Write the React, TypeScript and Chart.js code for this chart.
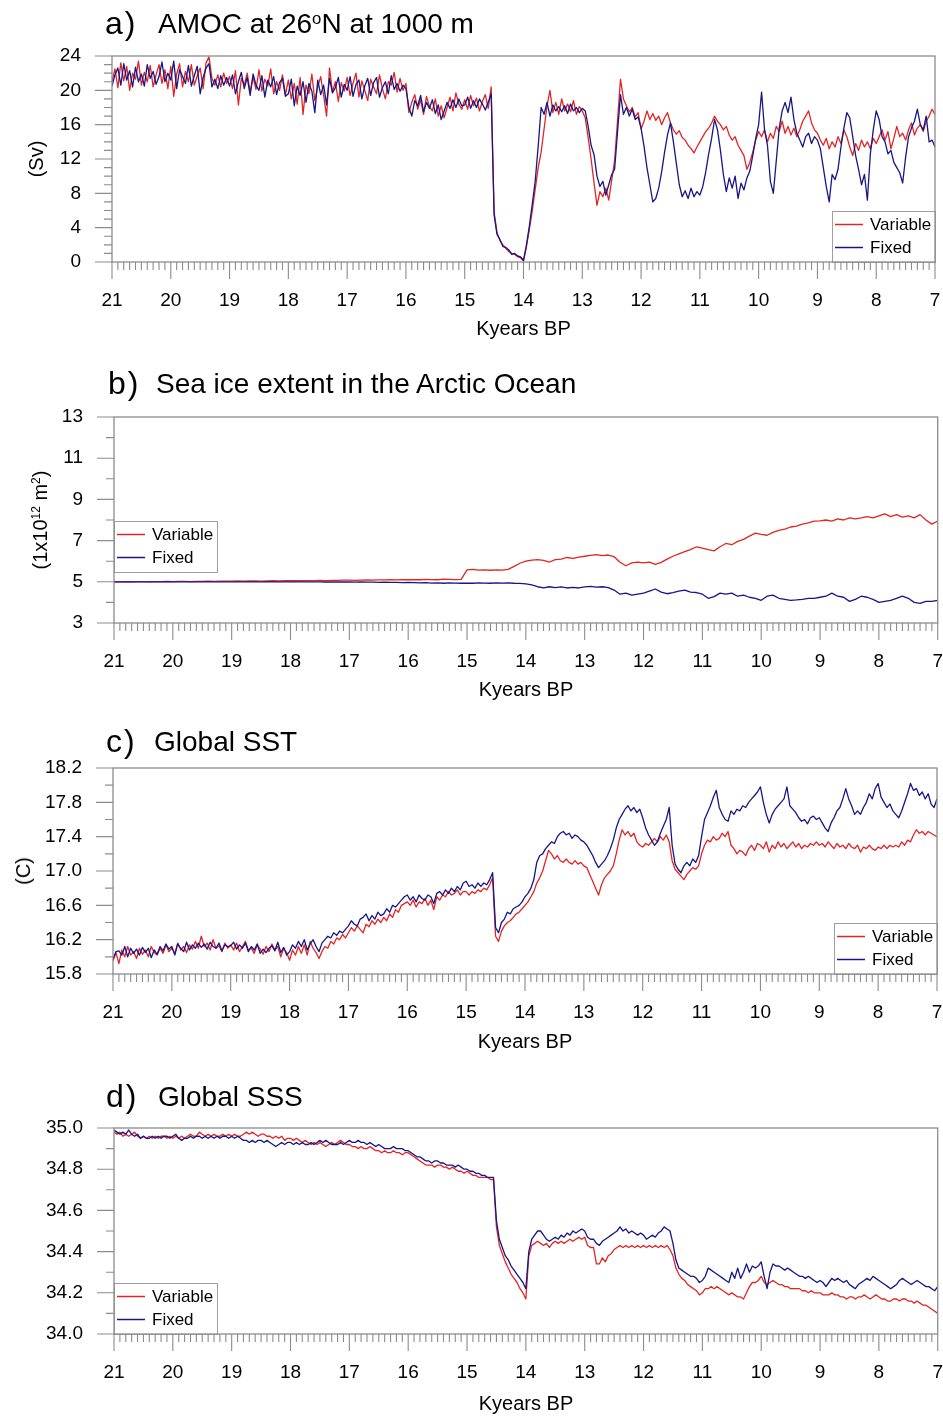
import React, { useEffect, useRef } from 'react';
import { Chart, registerables } from 'chart.js';

Chart.register(...registerables);

// ---------------- data ----------------
// sampling grids (kyears BP), 50-yr and 100-yr steps from 21 to 7
const YEARS_05 = Array.from({ length: 281 }, (_, i) => +(21 - i * 0.05).toFixed(2));
const YEARS_10 = Array.from({ length: 141 }, (_, i) => +(21 - i * 0.1).toFixed(1));

const X_TICKS = [21, 20, 19, 18, 17, 16, 15, 14, 13, 12, 11, 10, 9, 8, 7];
const AMOC_Y_TICKS = [0, 4, 8, 12, 16, 20, 24];
const SEAICE_Y_TICKS = [3, 5, 7, 9, 11, 13];
const SST_Y_TICKS = [15.8, 16.2, 16.6, 17.0, 17.4, 17.8, 18.2];
const SSS_Y_TICKS = [34.0, 34.2, 34.4, 34.6, 34.8, 35.0];

const SERIES_NAMES = ['Variable', 'Fixed'];

// a) AMOC at 26N at 1000 m (Sv), 50-yr grid
const AMOC_VARIABLE = [
  21.0, 22.5, 20.3, 23.2, 21.1, 22.8, 20.0, 22.0, 21.3, 23.4, 20.6, 22.1, 21.0, 22.9, 20.4, 21.8, 23.0, 20.8, 22.4, 20.2,
  22.8, 19.3, 21.9, 23.1, 20.4, 22.2, 21.0, 23.0, 20.6, 21.7, 22.6, 20.2, 23.2, 23.9, 21.4, 20.6, 21.8, 20.4, 22.0, 20.8,
  21.6, 20.2, 22.3, 18.3, 21.4, 20.6, 22.0, 19.8, 21.5, 20.1, 22.4, 19.9, 21.3, 20.5, 22.5, 19.6, 21.0, 20.0, 21.8, 19.5,
  21.2, 19.0, 20.8, 18.4, 21.5, 17.2, 20.6, 19.6, 21.9, 18.8, 20.4, 21.6, 19.4, 17.0, 22.6, 19.8, 21.0, 18.7, 20.9, 19.9,
  21.5, 19.4, 20.8, 22.0, 19.2, 21.1, 20.0, 18.8, 21.3, 20.4, 19.6, 21.8, 20.2, 19.0, 21.0, 20.6, 22.1, 19.8, 21.4, 20.0,
  20.8, 17.4, 18.6, 19.5, 17.8, 18.9, 17.2, 19.3, 18.1, 17.6, 19.0, 17.0, 18.2, 16.8, 18.0, 19.2, 17.6, 19.7, 18.4, 17.8,
  18.9, 17.8, 19.4, 18.2, 19.1, 17.6, 18.7, 19.5, 17.9, 20.4, 5.8, 3.4, 2.5, 2.0, 1.6, 1.2, 1.0, 0.9, 0.6, 0.5,
  0.1, 1.8, 3.8, 6.0, 8.5, 11.0, 12.8, 15.5, 18.2, 20.0, 17.4, 18.6, 17.2, 19.0, 17.6, 18.4, 17.5, 18.8, 17.2, 18.1,
  17.6, 16.8, 14.5, 12.0, 9.2, 6.6, 8.2, 7.6, 8.6, 7.2, 9.5, 11.8, 16.5, 21.3, 19.0, 18.2, 17.5, 18.0, 16.9, 17.4,
  15.5, 16.4, 17.6, 16.6, 17.3, 16.5, 17.0, 16.0, 16.8, 17.4, 16.2, 15.4, 14.9, 15.3, 14.5, 14.2, 13.6, 13.2, 12.7, 13.4,
  14.0, 14.6, 15.2, 15.6, 16.2, 17.0, 16.4, 16.0, 15.4, 15.8, 14.8, 14.2, 14.6, 13.6, 13.0, 12.4, 10.8, 11.6, 12.8, 14.2,
  15.2, 14.6, 15.4, 14.0, 15.0, 14.4, 15.8, 15.2, 16.4, 15.0, 15.8, 14.8, 15.6, 14.6, 15.4, 16.4, 17.0, 17.6, 16.2, 15.4,
  15.0, 14.2, 13.6, 14.4, 13.2, 14.0, 13.4, 14.6, 13.8, 15.4, 14.6, 13.4, 12.4, 13.8, 13.0, 14.2, 13.4, 14.0, 13.2, 14.4,
  13.8, 14.6, 15.4, 14.2, 15.2, 13.2, 14.4, 15.8, 14.6, 15.0, 14.2, 15.4, 16.2, 14.8, 15.6, 16.0, 15.2, 16.4, 17.0, 17.8, 17.2,
];
const AMOC_FIXED = [
  20.5, 21.8, 22.6, 20.6, 23.1, 21.2, 22.3, 20.4, 22.7, 21.0, 21.9, 20.5, 23.0, 21.4, 22.2, 20.7, 21.6, 23.3, 21.0, 22.0,
  21.2, 23.4, 20.2, 22.4, 21.6, 20.8, 22.9, 20.5, 21.7, 22.8, 19.6, 21.5, 22.6, 23.1, 20.4, 21.3, 20.2, 21.7, 20.6, 21.5,
  20.5, 21.8, 19.6, 21.0, 22.1, 20.2, 21.5, 19.4, 21.9, 20.6, 20.0, 21.7, 19.2, 21.2, 20.4, 21.6, 19.5, 20.9, 21.4, 19.3,
  19.6, 21.3, 18.2, 20.5, 19.4, 21.0, 18.6, 20.8, 19.9, 17.4, 21.2, 19.5, 20.6, 18.3, 21.4, 19.7, 20.3, 21.5, 19.2, 20.7,
  20.0, 21.6, 19.3, 20.7, 21.2, 19.0, 20.5, 21.4, 19.4, 20.9, 21.5, 19.2, 20.3, 21.0, 19.6, 21.7, 20.1, 20.8, 19.9, 20.6,
  20.2, 18.0, 17.0, 18.8, 18.2, 19.4, 17.5, 18.6, 17.9, 18.9, 17.3, 18.3, 16.6, 17.6, 18.6, 17.9, 18.9, 18.0, 19.0, 18.2,
  18.3, 19.2, 17.9, 18.8, 18.0, 19.0, 18.4, 17.7, 18.6, 19.6, 5.5, 3.2, 2.6, 1.8, 1.7, 1.4, 0.9, 1.0, 0.7, 0.6,
  0.2, 2.0, 4.2, 6.8, 9.5, 13.5, 18.0, 17.2, 18.6, 17.0, 18.3, 17.6, 18.1, 17.5, 18.2, 17.3, 18.4, 17.6, 18.0, 17.4,
  17.9, 17.6, 15.8, 13.6, 12.5, 10.0, 8.8, 9.4, 7.8, 9.0, 10.2, 10.8, 15.2, 19.5, 17.2, 18.0, 17.0, 17.8, 16.6, 16.9,
  15.6, 13.5, 11.0, 9.0, 7.0, 7.4, 8.6, 10.5, 12.8, 14.8, 16.2, 14.0, 11.5, 9.0, 7.6, 8.3, 7.4, 8.6, 7.6, 8.2,
  7.8, 8.8, 10.5, 12.6, 14.4, 16.6, 15.4, 13.0, 10.2, 8.2, 9.8, 8.6, 10.0, 7.4, 9.2, 8.4, 9.8, 10.6, 12.4, 14.4,
  16.0, 19.8, 15.4, 13.6, 9.4, 8.0, 11.8, 15.6, 17.6, 18.6, 17.4, 19.2, 16.6, 15.0, 14.2, 13.4, 14.6, 15.0, 13.8, 14.6,
  14.2, 13.2, 11.0, 8.8, 7.0, 10.2, 9.6, 10.8, 13.4, 15.6, 17.4, 16.8, 14.6, 12.4, 10.8, 9.0, 10.2, 7.2, 12.6, 15.4,
  17.6, 16.6, 14.6, 14.0, 12.6, 13.0, 11.6, 11.0, 10.4, 9.2, 12.2, 14.6, 15.6, 16.4, 17.8, 16.0, 15.4, 17.0, 14.0, 14.2, 13.4,
];

// b) Sea ice extent in the Arctic Ocean (1e12 m2), 100-yr grid
const SEAICE_VARIABLE = [
  5.00, 5.00, 5.01, 5.00, 5.01, 5.01, 5.00, 5.01, 5.01, 5.02,
  5.01, 5.02, 5.02, 5.01, 5.02, 5.02, 5.03, 5.02, 5.03, 5.03,
  5.03, 5.04, 5.03, 5.04, 5.04, 5.03, 5.04, 5.05, 5.04, 5.05,
  5.05, 5.06, 5.05, 5.06, 5.06, 5.07, 5.06, 5.07, 5.07, 5.08,
  5.08, 5.07, 5.08, 5.09, 5.08, 5.09, 5.09, 5.10, 5.09, 5.10,
  5.10, 5.11, 5.10, 5.12, 5.11, 5.10, 5.13, 5.12, 5.11, 5.12,
  5.58, 5.60, 5.57, 5.58, 5.56, 5.58, 5.57, 5.60, 5.75, 5.90,
  6.00, 6.05, 6.08, 6.04, 5.96, 6.08, 6.10, 6.18, 6.14, 6.20,
  6.24, 6.28, 6.32, 6.27, 6.30, 6.22, 5.95, 5.78, 5.92, 5.96,
  5.92, 5.96, 5.85, 5.94, 6.10, 6.24, 6.36, 6.46, 6.56, 6.70,
  6.64, 6.56, 6.50, 6.70, 6.86, 6.80, 6.96, 7.06, 7.22, 7.36,
  7.30, 7.26, 7.40, 7.50, 7.56, 7.66, 7.70, 7.80, 7.86, 7.95,
  7.96, 8.00, 7.95, 8.05, 8.00, 8.10, 8.05, 8.10, 8.16, 8.10,
  8.20, 8.30, 8.16, 8.26, 8.14, 8.20, 8.10, 8.26, 8.00, 7.80, 7.95,
];
const SEAICE_FIXED = [
  5.00, 5.00, 5.00, 5.00, 5.00, 5.00, 5.00, 5.00, 5.00, 5.00,
  5.00, 5.00, 5.00, 5.00, 5.00, 5.00, 5.00, 5.00, 5.00, 5.00,
  5.00, 5.00, 5.00, 5.00, 5.00, 5.00, 5.00, 5.00, 5.00, 5.00,
  5.00, 5.00, 5.00, 5.00, 5.00, 5.00, 4.99, 5.00, 4.99, 4.99,
  4.99, 4.98, 4.99, 4.98, 4.98, 4.97, 4.98, 4.97, 4.97, 4.96,
  4.97, 4.96, 4.95, 4.96, 4.94, 4.95, 4.93, 4.95, 4.94, 4.93,
  4.94, 4.93, 4.95, 4.94, 4.93, 4.95, 4.94, 4.95, 4.93, 4.92,
  4.90, 4.85, 4.76, 4.70, 4.76, 4.72, 4.75, 4.70, 4.73, 4.70,
  4.75, 4.78, 4.74, 4.76, 4.72, 4.60, 4.40, 4.45, 4.35, 4.40,
  4.45, 4.55, 4.65, 4.50, 4.42, 4.48, 4.55, 4.60, 4.50, 4.48,
  4.40, 4.20, 4.28, 4.45, 4.40, 4.45, 4.30, 4.35, 4.25, 4.20,
  4.10, 4.30, 4.35, 4.20, 4.15, 4.10, 4.12, 4.15, 4.20, 4.20,
  4.25, 4.30, 4.45, 4.30, 4.25, 4.05, 4.15, 4.30, 4.25, 4.15,
  4.00, 4.05, 4.10, 4.20, 4.30, 4.20, 4.00, 3.95, 4.05, 4.05, 4.10,
];

// c) Global SST (C), 50-yr grid
const SST_VARIABLE = [
  15.95, 16.05, 15.92, 16.08, 16.00, 16.12, 16.02, 16.06, 15.98, 16.10, 16.03, 16.08, 16.00, 16.12, 16.05, 16.02, 16.10, 16.04, 16.14, 16.06,
  16.10, 16.04, 16.16, 16.08, 16.12, 16.05, 16.14, 16.09, 16.18, 16.10, 16.24, 16.12, 16.16, 16.08, 16.20, 16.10, 16.13, 16.06, 16.16, 16.10,
  16.14, 16.08, 16.16, 16.06, 16.12, 16.18, 16.08, 16.10, 16.04, 16.14, 16.09, 16.03, 16.12, 16.06, 16.15, 16.08, 16.12, 16.00, 16.10, 16.05,
  15.96, 16.08, 16.02, 16.12, 16.04, 16.14, 16.02, 16.18, 16.10, 16.05, 15.98, 16.06, 16.12, 16.10, 16.18, 16.15, 16.22, 16.20, 16.26, 16.22,
  16.28, 16.34, 16.30, 16.36, 16.32, 16.28, 16.38, 16.35, 16.42, 16.38, 16.44, 16.40, 16.46, 16.42, 16.50, 16.46, 16.55, 16.52, 16.60, 16.62,
  16.64, 16.60, 16.66, 16.58, 16.64, 16.62, 16.68, 16.60, 16.66, 16.55, 16.70, 16.66, 16.72, 16.70, 16.76, 16.72, 16.74, 16.78, 16.72, 16.76,
  16.76, 16.72, 16.76, 16.74, 16.78, 16.76, 16.80, 16.78, 16.84, 16.92, 16.24, 16.18, 16.30, 16.36, 16.40, 16.42, 16.46, 16.50, 16.52, 16.56,
  16.60, 16.64, 16.70, 16.76, 16.86, 16.92, 17.00, 17.12, 17.24, 17.20, 17.14, 17.18, 17.12, 17.10, 17.14, 17.10, 17.08, 17.12, 17.08, 17.10,
  17.06, 17.04, 16.96, 16.88, 16.80, 16.72, 16.84, 16.92, 16.96, 17.00, 17.06, 17.20, 17.36, 17.48, 17.42, 17.46, 17.40, 17.44, 17.34, 17.30,
  17.28, 17.32, 17.30, 17.34, 17.38, 17.34, 17.40, 17.36, 17.42, 17.34, 17.12, 17.02, 16.98, 16.94, 16.90, 16.96, 17.00, 17.04, 17.02, 17.06,
  17.20, 17.30, 17.36, 17.34, 17.40, 17.36, 17.38, 17.44, 17.40, 17.46, 17.30, 17.26, 17.20, 17.24, 17.22, 17.18, 17.26, 17.30, 17.24, 17.32,
  17.30, 17.26, 17.34, 17.22, 17.30, 17.26, 17.34, 17.28, 17.32, 17.26, 17.30, 17.34, 17.28, 17.32, 17.26, 17.30, 17.28, 17.32, 17.30, 17.34,
  17.30, 17.32, 17.28, 17.34, 17.30, 17.26, 17.32, 17.28, 17.30, 17.26, 17.32, 17.28, 17.26, 17.30, 17.22, 17.28, 17.26, 17.30, 17.26, 17.24,
  17.28, 17.26, 17.30, 17.26, 17.30, 17.28, 17.30, 17.28, 17.34, 17.30, 17.36, 17.34, 17.42, 17.48, 17.44, 17.46, 17.42, 17.46, 17.44, 17.42, 17.40,
];
const SST_FIXED = [
  15.97, 16.06, 16.07, 16.02, 16.12, 16.00, 16.10, 16.04, 16.09, 16.02, 16.11, 16.05, 16.10, 15.99, 16.08, 16.03, 16.12, 16.07, 16.15, 16.09,
  16.12, 16.02, 16.15, 16.10, 16.06, 16.17, 16.08, 16.14, 16.10, 16.16, 16.11, 16.15, 16.09, 16.17, 16.12, 16.10, 16.16, 16.07, 16.14, 16.12,
  16.13, 16.17, 16.09, 16.14, 16.10, 16.16, 16.06, 16.12, 16.08, 16.15, 16.04, 16.09, 16.05, 16.10, 16.13, 16.07, 16.17, 16.05, 16.11, 16.02,
  16.06, 16.14, 16.10, 16.18, 16.12, 16.20, 16.08, 16.15, 16.20, 16.12, 16.06, 16.16, 16.20, 16.24, 16.22, 16.28, 16.25, 16.30, 16.28, 16.32,
  16.36, 16.42, 16.38, 16.36, 16.44, 16.46, 16.50, 16.42, 16.48, 16.44, 16.52, 16.48, 16.50, 16.56, 16.52, 16.60, 16.58, 16.62, 16.66, 16.70,
  16.72, 16.66, 16.70, 16.64, 16.72, 16.68, 16.66, 16.72, 16.70, 16.62, 16.74, 16.76, 16.72, 16.78, 16.74, 16.80, 16.76, 16.82, 16.78, 16.86,
  16.88, 16.82, 16.84, 16.80, 16.86, 16.82, 16.86, 16.84, 16.90, 16.98, 16.34, 16.28, 16.40, 16.44, 16.52, 16.50, 16.56, 16.58, 16.60, 16.64,
  16.70, 16.74, 16.80, 16.90, 17.10, 17.18, 17.20, 17.26, 17.30, 17.34, 17.32, 17.40, 17.44, 17.46, 17.42, 17.44, 17.38, 17.42, 17.40, 17.36,
  17.34, 17.30, 17.24, 17.18, 17.10, 17.04, 17.08, 17.12, 17.18, 17.26, 17.36, 17.50, 17.60, 17.66, 17.72, 17.76, 17.70, 17.74, 17.68, 17.72,
  17.62, 17.50, 17.42, 17.36, 17.30, 17.34, 17.44, 17.52, 17.60, 17.74, 17.30, 17.08, 17.02, 16.98, 17.06, 17.10, 17.06, 17.14, 17.10, 17.18,
  17.40, 17.60, 17.68, 17.76, 17.86, 17.94, 17.74, 17.66, 17.60, 17.58, 17.70, 17.66, 17.72, 17.70, 17.76, 17.74, 17.80, 17.84, 17.88, 17.92,
  17.98, 17.80, 17.66, 17.56, 17.66, 17.72, 17.76, 17.80, 17.84, 17.98, 17.76, 17.72, 17.68, 17.62, 17.58, 17.60, 17.55, 17.62, 17.64, 17.60,
  17.62, 17.56, 17.50, 17.46, 17.56, 17.62, 17.70, 17.74, 17.84, 17.96, 17.84, 17.76, 17.66, 17.70, 17.66, 17.74, 17.80, 17.90, 17.84, 17.96,
  18.02, 17.86, 17.80, 17.74, 17.78, 17.70, 17.66, 17.62, 17.70, 17.80, 17.90, 18.02, 17.94, 17.96, 17.88, 17.92, 17.84, 17.90, 17.78, 17.74, 17.84,
];

// d) Global SSS, 50-yr grid
const SSS_VARIABLE = [
  34.98, 34.97, 34.98, 34.96, 34.97, 34.96, 34.97, 34.98, 34.96, 34.95, 34.96, 34.95, 34.96, 34.95, 34.96, 34.95, 34.96, 34.96, 34.95, 34.96,
  34.95, 34.96, 34.95, 34.96, 34.95, 34.96, 34.97, 34.96, 34.96, 34.98, 34.97, 34.96, 34.97, 34.96, 34.97, 34.96, 34.96, 34.97, 34.96, 34.97,
  34.96, 34.97, 34.96, 34.96, 34.97, 34.98, 34.97, 34.98, 34.97, 34.96, 34.97, 34.97, 34.96, 34.96, 34.95, 34.96, 34.95, 34.96, 34.94, 34.95,
  34.95, 34.94, 34.95, 34.94, 34.93, 34.94, 34.93, 34.92, 34.93, 34.92, 34.93, 34.92, 34.91, 34.92, 34.93, 34.92, 34.93, 34.94, 34.93, 34.92,
  34.92, 34.91, 34.91, 34.90, 34.91, 34.90, 34.90, 34.91, 34.90, 34.89, 34.89, 34.88, 34.89, 34.88, 34.88, 34.89, 34.88, 34.88, 34.87, 34.88,
  34.88, 34.87, 34.86, 34.85, 34.84, 34.83, 34.82, 34.82, 34.82, 34.81, 34.82, 34.82, 34.81, 34.81, 34.80, 34.81, 34.80, 34.79, 34.79, 34.78,
  34.79, 34.78, 34.77, 34.77, 34.76, 34.76, 34.76, 34.76, 34.75, 34.75, 34.52, 34.43, 34.39, 34.35, 34.32, 34.29, 34.27, 34.25, 34.22, 34.20,
  34.17, 34.38, 34.43, 34.44, 34.45, 34.44, 34.43, 34.44, 34.42, 34.44, 34.45, 34.44, 34.45, 34.44, 34.45, 34.46, 34.45, 34.46, 34.47, 34.46,
  34.47, 34.43, 34.42, 34.42, 34.34, 34.34, 34.37, 34.35, 34.38, 34.39, 34.41, 34.42, 34.43, 34.42, 34.43, 34.42, 34.43, 34.42, 34.43, 34.42,
  34.43, 34.42, 34.43, 34.42, 34.43, 34.42, 34.43, 34.42, 34.43, 34.41, 34.38, 34.32, 34.29, 34.27, 34.26, 34.24, 34.23, 34.22, 34.21, 34.19,
  34.20, 34.22, 34.22, 34.23, 34.22, 34.23, 34.22, 34.21, 34.20, 34.19, 34.20, 34.19, 34.18, 34.18, 34.17, 34.20, 34.23, 34.25, 34.25, 34.26,
  34.28, 34.25, 34.24, 34.25, 34.26, 34.25, 34.24, 34.24, 34.23, 34.23, 34.22, 34.22, 34.22, 34.22, 34.21, 34.21, 34.20, 34.21, 34.20, 34.20,
  34.20, 34.19, 34.19, 34.19, 34.20, 34.19, 34.19, 34.18, 34.18, 34.17, 34.18, 34.18, 34.17, 34.18, 34.18, 34.19, 34.18, 34.17, 34.18, 34.19,
  34.18, 34.17, 34.17, 34.16, 34.16, 34.17, 34.17, 34.16, 34.17, 34.17, 34.16, 34.16, 34.15, 34.16, 34.15, 34.14, 34.14, 34.13, 34.12, 34.11, 34.10,
];
const SSS_FIXED = [
  34.99, 34.98, 34.97, 34.98, 34.97, 34.99, 34.97, 34.96, 34.97, 34.95, 34.96, 34.95, 34.95, 34.96, 34.95, 34.96, 34.95, 34.96, 34.96, 34.95,
  34.96, 34.97, 34.95, 34.94, 34.95, 34.95, 34.96, 34.95, 34.96, 34.96, 34.95, 34.96, 34.95, 34.96, 34.95, 34.96, 34.95, 34.96, 34.96, 34.95,
  34.96, 34.95, 34.96, 34.95, 34.94, 34.94, 34.93, 34.94, 34.93, 34.94, 34.94, 34.93, 34.94, 34.93, 34.92, 34.91, 34.92, 34.93, 34.92, 34.93,
  34.93, 34.92, 34.93, 34.92, 34.93, 34.92, 34.92, 34.93, 34.92, 34.93, 34.94, 34.93, 34.94, 34.93, 34.92, 34.92, 34.92, 34.93, 34.92, 34.93,
  34.94, 34.93, 34.93, 34.94, 34.93, 34.93, 34.92, 34.93, 34.92, 34.91, 34.92, 34.91, 34.90, 34.90, 34.90, 34.91, 34.90, 34.90, 34.90, 34.89,
  34.89, 34.88, 34.87, 34.86, 34.86, 34.85, 34.84, 34.84, 34.83, 34.84, 34.84, 34.83, 34.83, 34.82, 34.82, 34.82, 34.81, 34.82, 34.81, 34.80,
  34.80, 34.79, 34.79, 34.78, 34.78, 34.77, 34.77, 34.76, 34.76, 34.76, 34.55, 34.46, 34.42, 34.38, 34.36, 34.33, 34.31, 34.29, 34.27, 34.25,
  34.22, 34.40, 34.46, 34.48, 34.50, 34.50, 34.48, 34.46, 34.45, 34.46, 34.47, 34.46, 34.48, 34.47, 34.49, 34.48, 34.50, 34.49, 34.50, 34.51,
  34.50, 34.47, 34.46, 34.46, 34.44, 34.43, 34.45, 34.46, 34.47, 34.48, 34.49, 34.50, 34.52, 34.50, 34.51, 34.49, 34.50, 34.49, 34.48, 34.49,
  34.48, 34.46, 34.47, 34.48, 34.47, 34.49, 34.50, 34.52, 34.51, 34.50, 34.44, 34.36, 34.32, 34.31, 34.30, 34.29, 34.28, 34.28, 34.27, 34.25,
  34.26, 34.28, 34.32, 34.31, 34.30, 34.29, 34.28, 34.27, 34.26, 34.25, 34.30, 34.27, 34.32, 34.27, 34.30, 34.34, 34.30, 34.33, 34.32, 34.33,
  34.35, 34.28, 34.22, 34.30, 34.34, 34.33, 34.33, 34.32, 34.31, 34.32, 34.31, 34.30, 34.29, 34.28, 34.28, 34.27, 34.28, 34.27, 34.26, 34.25,
  34.26, 34.25, 34.23, 34.25, 34.27, 34.26, 34.27, 34.26, 34.25, 34.26, 34.24, 34.23, 34.22, 34.24, 34.25, 34.26, 34.27, 34.26, 34.28, 34.27,
  34.26, 34.25, 34.24, 34.23, 34.22, 34.23, 34.24, 34.26, 34.27, 34.26, 34.25, 34.24, 34.25, 34.26, 34.25, 34.24, 34.23, 34.23, 34.22, 34.21, 34.23,
];

// ---------------- style / layout ----------------
const FONT = '"Liberation Sans", Arial, Helvetica, sans-serif';
const RED = 'rgb(226,36,36)';
const BLUE = 'rgb(22,22,135)';
const FRAME = '#8c8c8c';
const PAGE_W = 943;

type Panel = {
  years: number[];
  variable: number[];
  fixed: number[];
  yMin: number;
  yMax: number;
  yTicks: number[];
  minor: number;
  major: number;
  decimals: number;
  area: { l: number; t: number; r: number; b: number };
  legend: { side: 'left' | 'right'; topOffset: number | null };
};

const PANELS: Panel[] = [
  {
    years: YEARS_05, variable: AMOC_VARIABLE, fixed: AMOC_FIXED,
    yMin: 0, yMax: 24, yTicks: AMOC_Y_TICKS, minor: 1, major: 4, decimals: 0,
    area: { l: 112, t: 56, r: 935, b: 262 }, legend: { side: 'right', topOffset: null },
  },
  {
    years: YEARS_10, variable: SEAICE_VARIABLE, fixed: SEAICE_FIXED,
    yMin: 3, yMax: 13, yTicks: SEAICE_Y_TICKS, minor: 1, major: 2, decimals: 0,
    area: { l: 114, t: 417, r: 938, b: 623 }, legend: { side: 'left', topOffset: 104 },
  },
  {
    years: YEARS_05, variable: SST_VARIABLE, fixed: SST_FIXED,
    yMin: 15.8, yMax: 18.2, yTicks: SST_Y_TICKS, minor: 0.2, major: 0.4, decimals: 1,
    area: { l: 113, t: 768, r: 937, b: 974 }, legend: { side: 'right', topOffset: null },
  },
  {
    years: YEARS_05, variable: SSS_VARIABLE, fixed: SSS_FIXED,
    yMin: 34.0, yMax: 35.0, yTicks: SSS_Y_TICKS, minor: 0.1, major: 0.2, decimals: 1,
    area: { l: 114, t: 1128, r: 938, b: 1334 }, legend: { side: 'left', topOffset: null },
  },
];

const TOP_PAD = 20;
const BOTTOM_AXIS = 60;

function makeFramePlugin(p: Panel) {
  return {
    id: 'nclFrame',
    afterDatasetsDraw(chart: any) {
      const { ctx, chartArea: a } = chart;
      const xs = chart.scales.x;
      const ys = chart.scales.y;
      ctx.save();

      // legend box
      const w = 103;
      const h = 51;
      const bx = p.legend.side === 'right' ? a.right - w : a.left;
      const by = p.legend.topOffset != null ? a.top + p.legend.topOffset : a.bottom - h;
      ctx.fillStyle = '#ffffff';
      ctx.fillRect(bx, by, w, h);
      ctx.strokeStyle = '#a0a0a0';
      ctx.lineWidth = 1;
      ctx.strokeRect(bx + 0.5, by + 0.5, w, h);
      const entries = [
        { label: SERIES_NAMES[0], color: RED, dy: 13.5 },
        { label: SERIES_NAMES[1], color: BLUE, dy: 36.5 },
      ];
      ctx.font = `17px ${FONT}`;
      ctx.textBaseline = 'middle';
      ctx.textAlign = 'left';
      for (const e of entries) {
        ctx.strokeStyle = e.color;
        ctx.lineWidth = 1.5;
        ctx.beginPath();
        ctx.moveTo(bx + 3, by + e.dy);
        ctx.lineTo(bx + 31, by + e.dy);
        ctx.stroke();
        ctx.fillStyle = '#000';
        ctx.fillText(e.label, bx + 38, by + e.dy + 1);
      }

      // frame
      ctx.strokeStyle = FRAME;
      ctx.lineWidth = 1.3;
      ctx.strokeRect(a.left, a.top, a.right - a.left, a.bottom - a.top);

      // ticks
      ctx.lineWidth = 1.1;
      ctx.beginPath();
      for (let k = 70; k <= 210; k++) {
        const px = xs.getPixelForValue(k / 10);
        const len = k % 10 === 0 ? 17 : 8;
        ctx.moveTo(px, a.bottom);
        ctx.lineTo(px, a.bottom + len);
      }
      const n = Math.round((p.yMax - p.yMin) / p.minor);
      const every = Math.round(p.major / p.minor);
      for (let j = 0; j <= n; j++) {
        const py = ys.getPixelForValue(p.yMin + j * p.minor);
        const len = j % every === 0 ? 17 : 8;
        ctx.moveTo(a.left, py);
        ctx.lineTo(a.left - len, py);
      }
      ctx.stroke();
      ctx.restore();
    },
  };
}

function makeChart(canvas: HTMLCanvasElement, p: Panel) {
  const tickFont = { family: FONT, size: 19 };
  return new Chart(canvas, {
    type: 'line',
    data: {
      datasets: [
        {
          label: SERIES_NAMES[0],
          data: p.variable.map((v, i) => ({ x: p.years[i], y: v })),
          borderColor: RED,
          borderWidth: 1.3,
          pointRadius: 0,
          borderJoinStyle: 'round',
          order: 1,
        },
        {
          label: SERIES_NAMES[1],
          data: p.fixed.map((v, i) => ({ x: p.years[i], y: v })),
          borderColor: BLUE,
          borderWidth: 1.3,
          pointRadius: 0,
          borderJoinStyle: 'round',
          order: 0,
        },
      ],
    } as any,
    options: {
      responsive: false,
      animation: false,
      events: [],
      layout: { padding: { top: TOP_PAD, right: PAGE_W - p.area.r, left: 0, bottom: 0 } },
      plugins: { legend: { display: false }, tooltip: { enabled: false } },
      scales: {
        x: {
          type: 'linear',
          reverse: true,
          min: 7,
          max: 21,
          // label offset is carried by the (invisible) tick length, not ticks.padding
          grid: { display: false, drawTicks: true, tickLength: 27 },
          border: { display: false },
          afterBuildTicks: (s: any) => { s.ticks = X_TICKS.map((v) => ({ value: v })); },
          afterFit: (s: any) => { s.height = BOTTOM_AXIS; },
          ticks: {
            font: tickFont, color: '#000', padding: 0, maxRotation: 0, autoSkip: false,
            callback: (v: any) => String(v),
          },
        },
        y: {
          type: 'linear',
          min: p.yMin,
          max: p.yMax,
          grid: { display: false, drawTicks: true, tickLength: 31 },
          border: { display: false },
          afterBuildTicks: (s: any) => { s.ticks = p.yTicks.map((v) => ({ value: v })); },
          afterFit: (s: any) => { s.width = p.area.l; },
          ticks: {
            font: tickFont, color: '#000', padding: 0, autoSkip: false,
            callback: (v: any) => Number(v).toFixed(p.decimals),
          },
        },
      },
    } as any,
    plugins: [makeFramePlugin(p)],
  });
}

const txt = (extra: React.CSSProperties): React.CSSProperties => ({
  position: 'absolute',
  fontFamily: FONT,
  color: '#000',
  whiteSpace: 'nowrap',
  ...extra,
});

const sup: React.CSSProperties = { position: 'relative', top: '-0.55em', fontSize: '0.6em' };

function titleTop(baseline: number, fs: number) {
  return baseline - 0.8465 * fs;
}

export default function App() {
  const refs = [useRef<HTMLCanvasElement>(null), useRef<HTMLCanvasElement>(null), useRef<HTMLCanvasElement>(null), useRef<HTMLCanvasElement>(null)];

  useEffect(() => {
    const charts = PANELS.map((p, i) => makeChart(refs[i].current as HTMLCanvasElement, p));
    return () => charts.forEach((c) => c.destroy());
  }, []);

  const panelTitles = [
    { tag: 'a)', tagLeft: 105, left: 158, base: 34, text: <>AMOC at 26<span style={sup}>o</span>N at 1000 m</> },
    { tag: 'b)', tagLeft: 108, left: 156, base: 394, text: <>Sea ice extent in the Arctic Ocean</> },
    { tag: 'c)', tagLeft: 106, left: 154, base: 752, text: <>Global SST</> },
    { tag: 'd)', tagLeft: 106, left: 158, base: 1107, text: <>Global SSS</> },
  ];
  const xTitleBase = [335, 696, 1048, 1410];

  return (
    <div style={{ position: 'absolute', left: 0, top: 0, width: PAGE_W, height: 1416, background: '#fff', overflow: 'hidden' }}>
      {PANELS.map((p, i) => {
        const top = p.area.t - TOP_PAD;
        const h = p.area.b - p.area.t + TOP_PAD + BOTTOM_AXIS;
        return (
          <canvas
            key={i}
            ref={refs[i]}
            width={PAGE_W}
            height={h}
            style={{ position: 'absolute', left: 0, top, width: PAGE_W, height: h }}
          />
        );
      })}
      {panelTitles.map((t, i) => (
        <React.Fragment key={'t' + i}>
          <div style={txt({ left: t.tagLeft, top: titleTop(t.base, 32), fontSize: 32, lineHeight: '32px', letterSpacing: 2 })}>{t.tag}</div>
          <div style={txt({ left: t.left, top: titleTop(t.base, 28), fontSize: 28, lineHeight: '28px' })}>{t.text}</div>
        </React.Fragment>
      ))}
      {PANELS.map((p, i) => (
        <div
          key={'x' + i}
          style={txt({ left: (p.area.l + p.area.r) / 2, top: titleTop(xTitleBase[i], 20), fontSize: 20, lineHeight: '20px', transform: 'translateX(-50%)' })}
        >
          Kyears BP
        </div>
      ))}
      <div style={txt({ left: 36, top: 159, fontSize: 20, lineHeight: '20px', transform: 'translate(-50%, -50%) rotate(-90deg)' })}>(Sv)</div>
      <div style={txt({ left: 41, top: 520, fontSize: 20, lineHeight: '20px', transform: 'translate(-50%, -50%) rotate(-90deg)' })}>
        (1x10<span style={sup}>12</span> m<span style={sup}>2</span>)
      </div>
      <div style={txt({ left: 23, top: 871, fontSize: 20, lineHeight: '20px', transform: 'translate(-50%, -50%) rotate(-90deg)' })}>(C)</div>
    </div>
  );
}
